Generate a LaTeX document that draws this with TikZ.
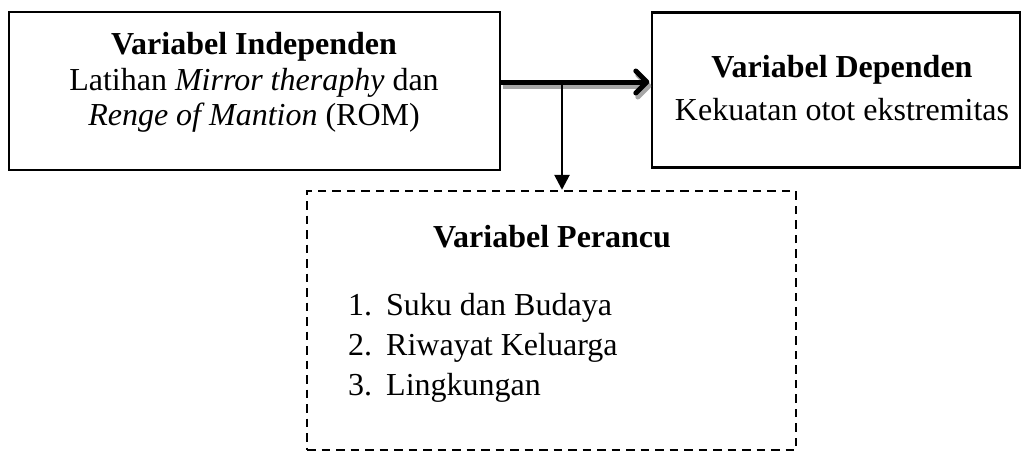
\documentclass[tikz,border=0pt]{standalone}
\usepackage{fontspec}
\setmainfont{Liberation Serif}
\usetikzlibrary{arrows.meta}
\begin{document}
\begin{tikzpicture}[x=1pt,y=-1pt,
  box/.style={draw=black,line width=2.4pt,minimum width=#1,inner sep=0pt},
  dbox/.style={draw=black,line width=2.4pt,dash pattern=on 8.5pt off 6pt,inner sep=0pt},
  txt/.style={anchor=base,inner sep=0pt,font=\fontsize{32}{38}\selectfont},
  ltxt/.style={anchor=base west,inner sep=0pt,font=\fontsize{32}{38}\selectfont}]
\useasboundingbox (0,0) rectangle (1027,453);
% boxes
\node[box=491pt,minimum height=158pt] (ind) at (254.5,91) {};
\node[box=368pt,minimum height=155pt] (dep) at (836,90) {};
\node[dbox,minimum width=489pt,minimum height=259pt] (per) at (551.5,320.5) {};
% texts box 1
\node[txt] (t1a) at (254,54) {\textbf{Variabel Independen}};
\node[txt] (t1b) at (254,90) {Latihan \textit{Mirror theraphy} dan};
\node[txt] (t1c) at (254,125) {\textit{Renge of Mantion} (ROM)};
% texts box 2
\node[txt] (t2a) at (842,77) {\textbf{Variabel Dependen}};
\node[txt] (t2b) at (842,120) {Kekuatan otot ekstremitas};
% texts box 3
\node[txt] (t3a) at (552,247) {\textbf{Variabel Perancu}};
\node[ltxt] (n1) at (348,315) {1.};
\node[ltxt] (n2) at (348,355) {2.};
\node[ltxt] (n3) at (348,395) {3.};
\node[ltxt] (i1) at (386,315) {Suku dan Budaya};
\node[ltxt] (i2) at (386,355) {Riwayat Keluarga};
\node[ltxt] (i3) at (386,395) {Lingkungan};
% connectors
\coordinate (jn) at (562,82);
\begin{scope}[transform canvas={xshift=2pt,yshift=-4pt}]
\draw[gray!70,line width=5pt,-{Straight Barb[length=11pt,width=22pt,round]}]
  (ind.east |- jn) -- ([xshift=-1.5pt]dep.west |- jn);
\end{scope}
\draw[black,line width=5pt,-{Straight Barb[length=11pt,width=22pt,round]}]
  (ind.east |- jn) -- ([xshift=-1.5pt]dep.west |- jn);
\draw[black,line width=2.6pt,-{Triangle[length=15pt,width=15pt]}]
  (jn) -- (per.north -| jn);
\end{tikzpicture}
\end{document}
